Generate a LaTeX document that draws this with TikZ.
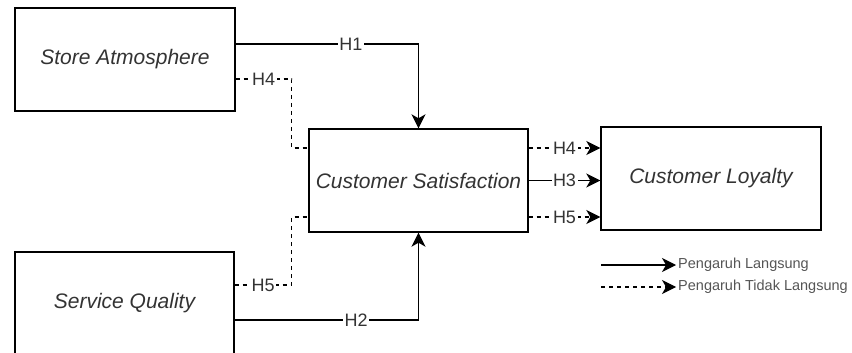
\documentclass[tikz,border=0pt]{standalone}
\usepackage{fontspec}
\setmainfont{Liberation Sans}
\usepackage{tikz}
\usetikzlibrary{arrows.meta,positioning,calc}

\definecolor{txtgray}{HTML}{333333}
\definecolor{leggray}{HTML}{555555}

\tikzset{
  varbox/.style={draw, line width=1.4pt, minimum width=220pt, minimum height=103pt,
    text=txtgray, font=\fontsize{21}{24}\selectfont\itshape},
  hyp/.style={fill=white, inner sep=1.5pt, text=txtgray, font=\fontsize{18}{20}\selectfont},
  direct/.style={line width=1.3pt, -{Stealth[length=14pt,width=14pt,inset=4pt]}},
  direct line/.style={line width=1.3pt},
  indirect/.style={line width=1.1pt, dash pattern=on 4pt off 4pt, -{Stealth[length=14pt,width=14pt,inset=4pt]}},
  indirect line/.style={line width=1.1pt, dash pattern=on 4pt off 4pt},
  legtext/.style={anchor=west, inner sep=2pt, text=leggray, font=\fontsize{14.5}{17}\selectfont}
}

\begin{document}
\begin{tikzpicture}[x=1pt, y=-1pt]

\useasboundingbox (0,0) rectangle (852,353);

% Variables
\node[varbox] (store) at (125,59.5) {Store Atmosphere};
\node[varbox, minimum width=219pt] (satis) at (418.5,180.5) {Customer Satisfaction};
\node[varbox] (loyal) at (711,178.5) {Customer Loyalty};
\node[varbox, minimum width=219pt] (service) at (124.5,303.5) {Service Quality};

% Direct paths into satisfaction
\draw[direct] ([yshift=15.5pt]store.east) -| node[hyp, pos=0.315] (h1) {H1} (satis.north);
\draw[direct] ([yshift=-16.5pt]service.east) -| node[hyp, pos=0.33] (h2) {H2} (satis.south);

% Indirect paths
\draw[indirect line] ([yshift=-19.5pt]store.east) -- node[hyp] (h4a) {H4} ++(56,0)
  |- ([yshift=32.5pt]satis.west);
\draw[indirect line] ([yshift=18.5pt]service.east) -- node[hyp] (h5a) {H5} ++(57,0)
  |- ([yshift=-36.5pt]satis.west);

% Satisfaction to loyalty
\draw[indirect] ([yshift=32.5pt]satis.east) -- node[hyp] (h4b) {H4} ([yshift=32.5pt]satis.east -| loyal.west);
\draw[direct] (satis.east) -- node[hyp] (h3) {H3} (satis.east -| loyal.west);
\draw[indirect] ([yshift=-36.5pt]satis.east) -- node[hyp] (h5b) {H5} ([yshift=-36.5pt]satis.east -| loyal.west);

% Legend
\node[legtext] (legdir) at (676,265) {Pengaruh Langsung};
\node[legtext] (legind) at (676,287) {Pengaruh Tidak Langsung};
\coordinate (legdirs) at (601,265);
\coordinate (leginds) at (601,287);
\draw[direct] (legdirs) -- (legdir.west);
\draw[indirect] (leginds) -- (legind.west);

\end{tikzpicture}
\end{document}
